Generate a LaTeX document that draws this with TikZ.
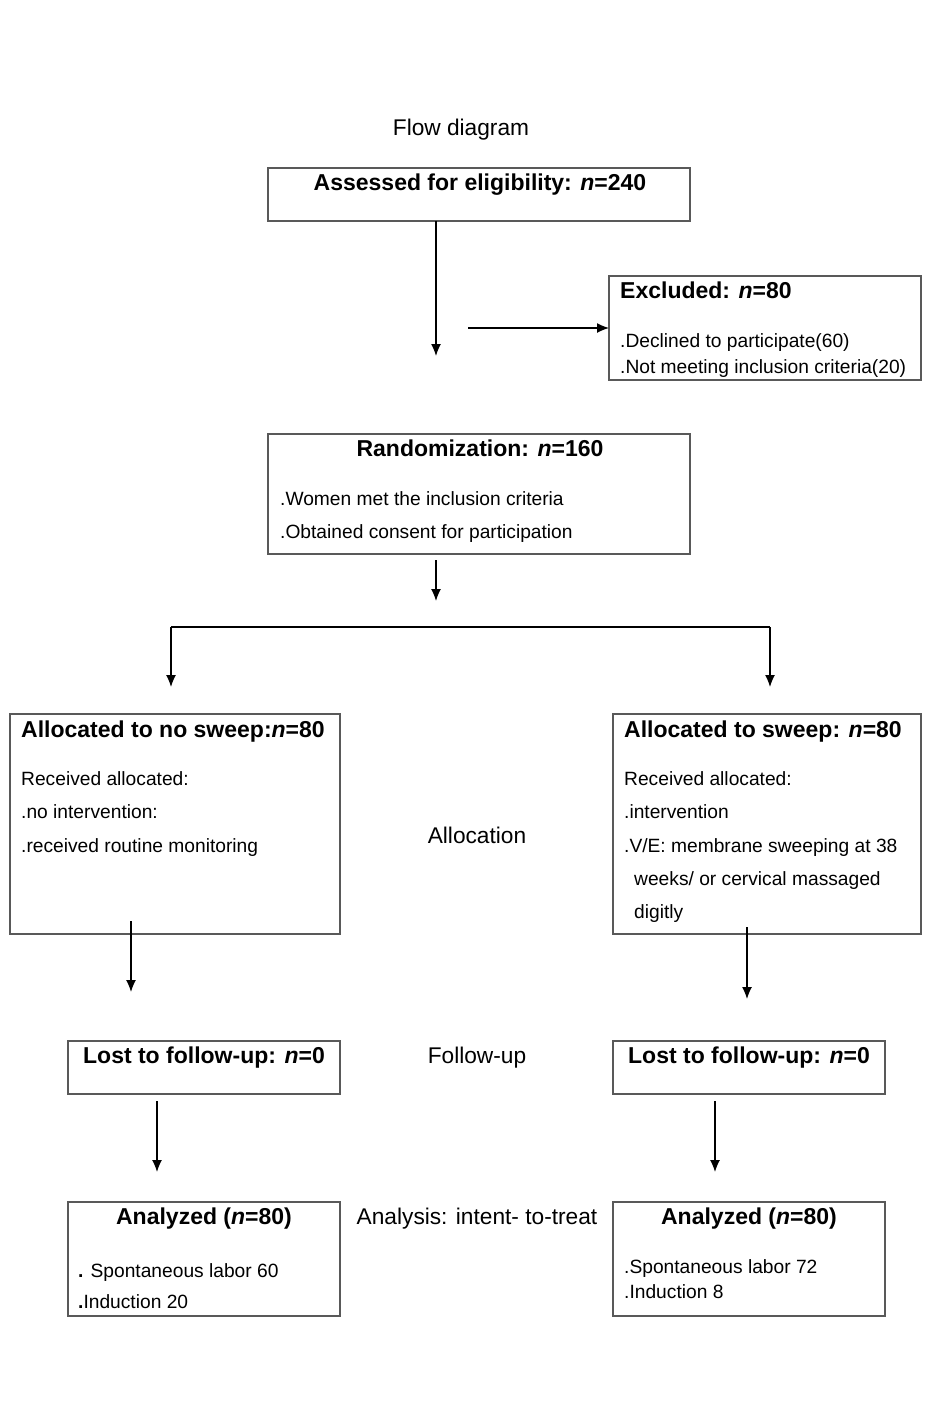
\documentclass[tikz,border=0pt]{standalone}
\usepackage{fontspec}
\setmainfont{Liberation Sans}
\usetikzlibrary{arrows.meta,calc}
\begin{document}
\begin{tikzpicture}[x=1pt,y=-1pt,
 box/.style={draw=black!65, line width=1.2pt, inner sep=0pt, outer sep=0pt},
 arr/.style={-{Latex[length=12pt,width=10pt]}, line width=1.3pt},
 txt/.style={anchor=base west, inner sep=0pt, font=\fontsize{19.2}{21}\selectfont},
 ttl/.style={anchor=base, inner sep=0pt, font=\fontsize{23}{25}\selectfont\bfseries},
 ttlw/.style={anchor=base west, inner sep=0pt, font=\fontsize{23}{25}\selectfont\bfseries},
 lbl/.style={anchor=base, inner sep=0pt, font=\fontsize{22.7}{25}\selectfont},
]
\useasboundingbox (0,0) rectangle (945,1417);

% title
\node[lbl] (flow) at (461,135) {Flow diagram};

% boxes
\node[box, minimum width=422pt, minimum height=53pt] (b1) at (479,194.5) {};
\node[box, minimum width=312pt, minimum height=104pt] (exc) at (765,328) {};
\node[box, minimum width=422pt, minimum height=120pt] (rnd) at (479,494) {};
\node[box, minimum width=330pt, minimum height=220pt] (al) at (175,824) {};
\node[box, minimum width=308pt, minimum height=220pt] (ar) at (767,824) {};
\node[box, minimum width=272pt, minimum height=53pt] (ll) at (204,1067.5) {};
\node[box, minimum width=272pt, minimum height=53pt] (lr) at (749,1067.5) {};
\node[box, minimum width=272pt, minimum height=114pt] (anl) at (204,1259) {};
\node[box, minimum width=272pt, minimum height=114pt] (anr) at (749,1259) {};

% texts
\node[ttl] (t1) at (480,190) {Assessed for eligibility: \textit{n}=240};
\node[ttlw] (t2) at (620,298) {Excluded: \textit{n}=80};
\node[txt] (t2a) at (620,347) {.Declined to participate(60)};
\node[txt] (t2b) at (620,373) {.Not meeting inclusion criteria(20)};
\node[ttl] (t3) at (480,456) {Randomization: \textit{n}=160};
\node[txt] (t3a) at (280,505) {.Women met the inclusion criteria};
\node[txt] (t3b) at (280,538) {.Obtained consent for participation};
\node[ttlw] (t4) at (21,737) {Allocated to no sweep:\textit{n}=80};
\node[txt] (t4a) at (21,785) {Received allocated:};
\node[txt] (t4b) at (21,818) {.no intervention:};
\node[txt] (t4c) at (21,852) {.received routine monitoring};
\node[ttlw] (t5) at (624,737) {Allocated to sweep: \textit{n}=80};
\node[txt] (t5a) at (624,785) {Received allocated:};
\node[txt] (t5b) at (624,818) {.intervention};
\node[txt] (t5c) at (624,852) {.V/E: membrane sweeping at 38};
\node[txt] (t5d) at (634,885) {weeks/ or cervical massaged};
\node[txt] (t5e) at (634,918) {digitly};
\node[lbl] (alloc) at (477,843) {Allocation};
\node[ttl] (t6) at (204,1063) {Lost to follow-up: \textit{n}=0};
\node[ttl] (t7) at (749,1063) {Lost to follow-up: \textit{n}=0};
\node[lbl] (fu) at (477,1063) {Follow-up};
\node[ttl] (t8) at (204,1224) {Analyzed (\textit{n}=80)};
\node[txt] (t8a) at (78,1277) {\textbf{.} Spontaneous labor 60};
\node[txt] (t8b) at (78,1308) {\textbf{.}Induction 20};
\node[ttl] (t9) at (749,1224) {Analyzed (\textit{n}=80)};
\node[txt] (t9a) at (624,1273) {.Spontaneous labor 72};
\node[txt] (t9b) at (624,1298) {.Induction 8};
\node[lbl] (ana) at (477,1224) {Analysis: intent- to-treat};

% connector coordinates
\coordinate (c1) at (436,356);
\coordinate (c2) at (468,328);
\coordinate (c3t) at (436,560);
\coordinate (c3) at (436,601);
\coordinate (sl) at (171,627);
\coordinate (sr) at (770,627);
\coordinate (el) at (171,687);
\coordinate (er) at (770,687);
\coordinate (d1t) at (131,921);
\coordinate (d1) at (131,992);
\coordinate (d2t) at (747,927);
\coordinate (d2) at (747,999);
\coordinate (f1t) at (157,1101);
\coordinate (f1) at (157,1172);
\coordinate (f2t) at (715,1101);
\coordinate (f2) at (715,1172);

% connectors
\draw[arr] (b1.south -| c1) -- (c1);
\draw[arr] (c2) -- (exc.west |- c2);
\draw[arr] (c3t) -- (c3);
\draw[line width=1.3pt] (sl) -- (sr);
\draw[arr] (sl) -- (el);
\draw[arr] (sr) -- (er);
\draw[arr] (d1t) -- (d1);
\draw[arr] (d2t) -- (d2);
\draw[arr] (f1t) -- (f1);
\draw[arr] (f2t) -- (f2);
\end{tikzpicture}
\end{document}
